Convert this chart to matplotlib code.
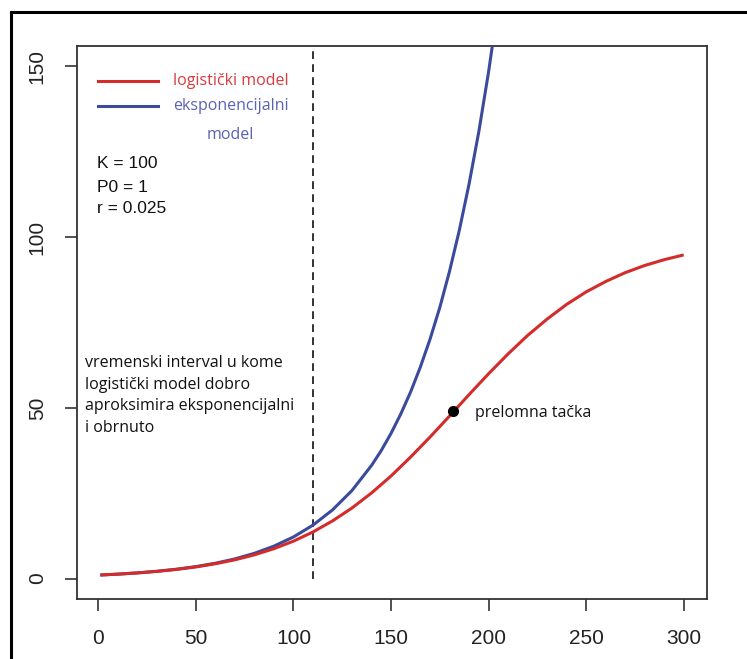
import matplotlib
matplotlib.use("Agg")
import matplotlib.pyplot as plt
from matplotlib.lines import Line2D

# ---- data ----
t_vals = [1, 10, 20, 30, 40, 50, 60, 70, 80, 90, 100, 110, 120, 130, 140, 150,
          160, 170, 180, 190, 200, 210, 220, 230, 240, 250, 260, 270, 280, 290, 300]
logistic_vals = [1.03, 1.28, 1.64, 2.09, 2.67, 3.40, 4.33, 5.49, 6.94, 8.75, 10.95,
                 13.64, 16.87, 20.66, 25.06, 30.03, 35.56, 41.45, 47.60, 53.88, 59.99,
                 65.80, 71.20, 76.00, 80.30, 83.96, 87.00, 89.60, 91.70, 93.40, 94.80]
t_exp = [1, 10, 20, 30, 40, 50, 60, 70, 80, 90, 100, 110, 120, 130, 140, 145, 150,
         155, 160, 165, 170, 175, 180, 185, 190, 195, 200, 205, 210]
exp_vals = [1.03, 1.28, 1.65, 2.12, 2.72, 3.49, 4.48, 5.75, 7.39, 9.49, 12.18, 15.64,
            20.09, 25.79, 33.12, 37.5, 42.52, 48.2, 54.60, 61.9, 70.11, 79.4, 90.02,
            102.0, 115.58, 130.9, 148.41, 168.2, 190.57]
inflection_point = (182, 49)
cutoff_t = 110
x_ticks = [0, 50, 100, 150, 200, 250, 300]
y_ticks = [0, 50, 100, 150]

legend_labels = ["logistički model", "eksponencijalni", "model"]
param_labels = ["K = 100", "P0 = 1", "r = 0.025"]
interval_lines = ["vremenski interval u kome", "logistički model dobro",
                  "aproksimira eksponencijalni", "i obrnuto"]
inflection_label = "prelomna tačka"

RED = "#d42b2b"
BLUE = "#3b4a9c"
RED_TXT = "#d93a3e"
BLUE_TXT = "#5a62b4"
ANN_FONT = ["Open Sans", "DejaVu Sans"]
AX_FONT = ["Liberation Sans", "DejaVu Sans"]
ANN_SIZE = 11.5

fig = plt.figure(figsize=(7.47, 6.59), dpi=100)
ax = fig.add_axes([77 / 747, 60 / 659, 630 / 747, 553 / 659])

ax.plot(t_exp, exp_vals, color=BLUE, lw=2.2, solid_capstyle="butt",
        solid_joinstyle="round", zorder=3)
ax.plot(t_vals, logistic_vals, color=RED, lw=2.2, solid_capstyle="butt",
        solid_joinstyle="round", zorder=4)
ax.plot([cutoff_t, cutoff_t], [0, 200], color="#222222", lw=1.3,
        dashes=(4.3, 2.9), zorder=2)
ax.plot([inflection_point[0]], [inflection_point[1]], "o", color="black",
        ms=7, zorder=5)

ax.set_xlim(-10.96, 311.96)
ax.set_ylim(-6, 156)
ax.set_xticks(x_ticks)
ax.set_yticks(y_ticks)
ax.set_xticklabels([str(v) for v in x_ticks], family=AX_FONT, fontsize=15)
ax.set_yticklabels([str(v) for v in y_ticks], family=AX_FONT, fontsize=15,
                   rotation=90, va="center")
ax.tick_params(axis="both", direction="out", length=8.8, width=1.2,
               color="#333333", pad=13, labelcolor="#222222")
for s in ax.spines.values():
    s.set_color("#333333")
    s.set_linewidth(1.3)

# legend (manual, R style, no box)
ax.add_line(Line2D([0.0333, 0.1286], [0.9367, 0.9367], transform=ax.transAxes,
                   color=RED, lw=2.2))
ax.add_line(Line2D([0.0333, 0.1286], [0.8915, 0.8915], transform=ax.transAxes,
                   color=BLUE, lw=2.2))
ax.text(0.1524, 0.9367, legend_labels[0], transform=ax.transAxes, color=RED_TXT,
        family=ANN_FONT, fontsize=ANN_SIZE, va="center", ha="left")
ax.text(0.1524, 0.8915, legend_labels[1], transform=ax.transAxes, color=BLUE_TXT,
        family=ANN_FONT, fontsize=ANN_SIZE, va="center", ha="left")
ax.text(0.243, 0.839, legend_labels[2], transform=ax.transAxes, color=BLUE_TXT,
        family=ANN_FONT, fontsize=ANN_SIZE, va="center", ha="center")

for lab, yy in zip(param_labels, [0.788, 0.745, 0.707]):
    ax.text(0.0317, yy, lab, transform=ax.transAxes, color="#111111",
            family=AX_FONT, fontsize=12.5, va="center", ha="left")

for lab, yy in zip(interval_lines, [0.4195, 0.3797, 0.3418, 0.302]):
    ax.text(0.0127, yy, lab, transform=ax.transAxes, color="#111111",
            family=ANN_FONT, fontsize=ANN_SIZE, va="baseline", ha="left")

ax.text(192.8, 47.3, inflection_label, color="#111111", family=ANN_FONT,
        fontsize=ANN_SIZE, va="baseline", ha="left")

# outer frame (top and left edges visible in the reference)
fig.add_artist(Line2D([11 / 747, 1.0], [1 - 12 / 659, 1 - 12 / 659],
                      transform=fig.transFigure, color="black", lw=2.2))
fig.add_artist(Line2D([11 / 747, 11 / 747], [0.0, 1 - 12 / 659],
                      transform=fig.transFigure, color="black", lw=2.2))

fig.savefig("out.png", dpi=100)
